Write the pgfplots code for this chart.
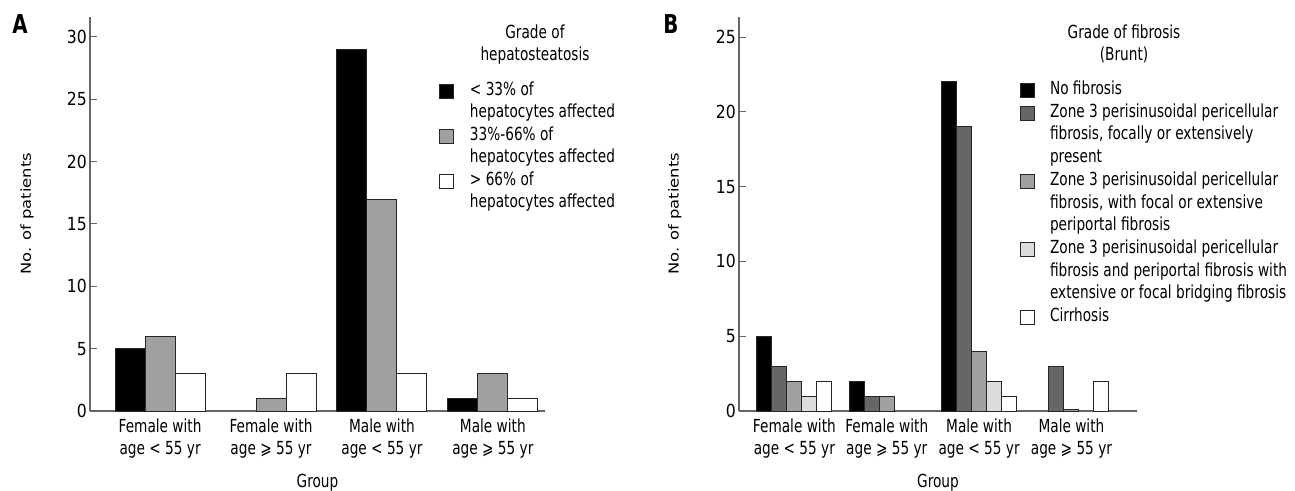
\documentclass[border=0pt]{standalone}
\usepackage{fontspec}
\setmainfont[FakeStretch=0.76]{DejaVu Sans}
\newfontfamily\ylabfont[FakeStretch=0.91]{DejaVu Sans}
\newfontfamily\tickfont[FakeStretch=0.87]{DejaVu Sans}
\usepackage{graphicx}
\usepackage{pgfplots}
\pgfplotsset{compat=1.18}
\definecolor{gA}{HTML}{A0A0A0}
\definecolor{gD}{HTML}{666666}
\definecolor{gL}{HTML}{DCDCDC}
\newcommand{\lf}{\fontsize{18}{22}\selectfont}
\pgfplotsset{
  mybox/.style={legend image code/.code={\draw[##1] (0pt,-3pt) rectangle (14pt,11pt);}},
  common/.style={
    scale only axis, height=394pt, ymin=0,
    ybar=0pt,
    axis x line*=bottom, axis y line*=left,
    axis line style={-, black!60, line width=1.2pt},
    tick align=inside, major tick length=7pt,
    ytick style={black!60, line width=1pt},
    xtick={0,1,2,3}, xtick style={draw=none},
    xticklabels={{Female with\\age < 55 yr},{Female with\\age ⩾ 55 yr},{Male with\\age < 55 yr},{Male with\\age ⩾ 55 yr}},
    xticklabel style={align=center, anchor=north, inner sep=0pt, font=\lf, yshift=-8pt},
    yticklabel style={font=\tickfont\fontsize{18}{22}\selectfont, anchor=east, inner sep=0pt, xshift=-3pt},
    /pgf/number format/assume math mode=true,
    xlabel={Group},
    xlabel style={at={(axis description cs:0.5,-0.193)}, anchor=base, font=\lf},
    ylabel={\scalebox{1}[0.76]{\ylabfont\fontsize{18}{22}\selectfont No. of patients}},
    ylabel style={anchor=center},
    legend style={draw=none, fill=none, anchor=north west, inner sep=0pt, outer sep=0pt,
      column sep=15.5pt, font=\lf, cells={anchor=base west},
      nodes={inner sep=0pt, outer sep=0pt, text height=14pt, text depth=4pt}},
  },
}
\begin{document}
\begin{tikzpicture}
\useasboundingbox (0,0) rectangle (1295pt,-490pt);
% Panel A  (zero-height bars are not drawn)
\begin{axis}[common, at={(90pt,-411pt)}, anchor=south west,
  width=455pt, xmin=-0.632, xmax=3.47, ymax=31.6, bar width=30pt,
  ytick={0,5,...,30},
  ylabel style={at={(axis description cs:-0.1385,0.5)}},
  legend style={at={(axis description cs:0.7681,0.8363)}, row sep=4.4pt}]
\addplot[fill=black, draw=black!85, line width=1pt, mybox] coordinates {(0,5) (2,29) (3,1)};
\addlegendentry{< 33\% of}
\addlegendimage{empty legend}\addlegendentry{hepatocytes affected}
\addplot[fill=gA, draw=black!85, line width=1pt, mybox] coordinates {(0,6) (1,1) (2,17) (3,3)};
\addlegendentry{33\%-66\% of}
\addlegendimage{empty legend}\addlegendentry{hepatocytes affected}
\addplot[fill=white, draw=black!85, line width=1pt, mybox] coordinates {(0,3) (1,3) (2,3) (3,1)};
\addlegendentry{> 66\% of}
\addlegendimage{empty legend}\addlegendentry{hepatocytes affected}
\end{axis}
% Panel B
\begin{axis}[common, at={(739pt,-411pt)}, anchor=south west,
  width=398pt, xmin=-0.60, xmax=3.71, ymax=26.34, bar width=15pt,
  ytick={0,5,...,25},
  ylabel style={at={(axis description cs:-0.161,0.5)}},
  legend style={at={(axis description cs:0.7048,0.8388)}, row sep=4.7pt}]
\addplot[fill=black, draw=black!85, line width=1pt, mybox] coordinates {(0,5) (1,2) (2,22)};
\addlegendentry{No fibrosis}
\addplot[fill=gD, draw=black!85, line width=1pt, mybox] coordinates {(0,3) (1,1) (2,19) (3,3)};
\addlegendentry{Zone 3 perisinusoidal pericellular}
\addlegendimage{empty legend}\addlegendentry{fibrosis, focally or extensively}
\addlegendimage{empty legend}\addlegendentry{present}
\addplot[fill=gA, draw=black!85, line width=1pt, mybox] coordinates {(0,2) (1,1) (2,4) (3,0.1)};
\addlegendentry{Zone 3 perisinusoidal pericellular}
\addlegendimage{empty legend}\addlegendentry{fibrosis, with focal or extensive}
\addlegendimage{empty legend}\addlegendentry{periportal fibrosis}
\addplot[fill=gL, draw=black!85, line width=1pt, mybox] coordinates {(0,1) (2,2)};
\addlegendentry{Zone 3 perisinusoidal pericellular}
\addlegendimage{empty legend}\addlegendentry{fibrosis and periportal fibrosis with}
\addlegendimage{empty legend}\addlegendentry{extensive or focal bridging fibrosis}
\addplot[fill=white, draw=black!85, line width=1pt, mybox] coordinates {(0,2) (2,1) (3,2)};
\addlegendentry{Cirrhosis}
\end{axis}
% titles and panel letters
\node[anchor=base, font=\lf] at (535pt,-38.5pt) {Grade of};
\node[anchor=base, font=\lf] at (535pt,-60.5pt) {hepatosteatosis};
\node[anchor=base, font=\lf] at (1124pt,-38.5pt) {Grade of fibrosis};
\node[anchor=base, font=\lf] at (1124pt,-60.5pt) {(Brunt)};
\node[anchor=base, font=\bfseries\fontsize{26}{30}\selectfont] at (20pt,-33pt) {A};
\node[anchor=base, font=\bfseries\fontsize{26}{30}\selectfont] at (671pt,-33pt) {B};
\end{tikzpicture}
\end{document}
